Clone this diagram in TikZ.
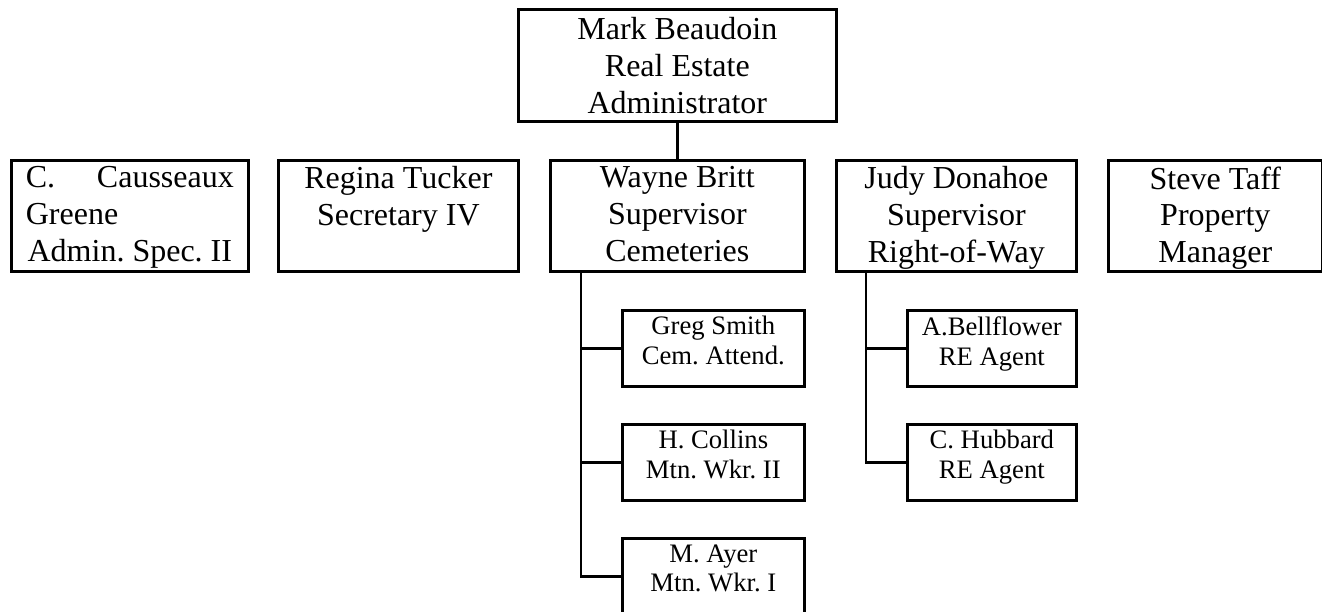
\documentclass[tikz,border=0pt]{standalone}
\usepackage{fontspec}
\setmainfont{Liberation Serif}
\frenchspacing

\begin{document}
\begin{tikzpicture}[x=0.375pt,y=-0.375pt,
    box/.style 2 args={draw,line width=1pt,inner sep=0pt,anchor=north west,
        minimum width=#1*0.375pt,minimum height=#2*0.375pt},
    big/.style={anchor=north,align=center,inner sep=0pt,font=\fontsize{12}{13.8}\selectfont},
    small/.style={anchor=north,align=center,inner sep=0pt,font=\fontsize{10}{11.2}\selectfont},
    link/.style={line width=1pt}]
    \useasboundingbox (0,0) rectangle (1322,611);
    % head
    \node[box={318}{112}] (mark) at (517,8) {};
    \node[big] (mark-t) at ([yshift=-3.4pt]mark.north) {Mark Beaudoin\\Real Estate\\Administrator};
    % second row
    \node[box={237}{111}] (causs) at (10,159) {};
    \node[big] (causs-t) at ([yshift=-2.6pt]causs.north)
        {\makebox[78pt][s]{C.\hfill Causseaux}\\\makebox[78pt][l]{Greene}\\\makebox[78pt]{Admin. Spec. II}};
    \node[box={240}{111}] (tucker) at (277,159) {};
    \node[big] (tucker-t) at ([yshift=-2.6pt]tucker.north) {Regina Tucker\\Secretary IV};
    \node[box={254}{111}] (britt) at (549,159) {};
    \node[big] (britt-t) at ([yshift=-2.6pt]britt.north) {Wayne Britt\\Supervisor\\Cemeteries};
    \node[box={240}{111}] (donahoe) at (835,159) {};
    \node[big] (donahoe-t) at ([yshift=-2.6pt]donahoe.north) {Judy Donahoe\\Supervisor\\Right-of-Way};
    \node[box={214}{111}] (taff) at (1107,159) {};
    \node[big] (taff-t) at ([yshift=-2.6pt]taff.north) {Steve Taff\\Property\\Manager};
    % cemeteries staff
    \node[box={182}{76}] (smith) at (621,309) {};
    \node[small] (smith-t) at ([yshift=-2.6pt]smith.north) {Greg Smith\\Cem. Attend.};
    \node[box={182}{76}] (collins) at (621,423) {};
    \node[small] (collins-t) at ([yshift=-2.6pt]collins.north) {H. Collins\\Mtn. Wkr. II};
    \node[box={182}{76}] (ayer) at (621,537) {};
    \node[small] (ayer-t) at ([yshift=-2.6pt]ayer.north) {M. Ayer\\Mtn. Wkr. I};
    % right-of-way staff
    \node[box={169}{76}] (bellfl) at (906,309) {};
    \node[small] (bellfl-t) at ([yshift=-2.6pt]bellfl.north) {A.Bellflower\\RE Agent};
    \node[box={169}{76}] (hubbard) at (906,423) {};
    \node[small] (hubbard-t) at ([yshift=-2.6pt]hubbard.north) {C. Hubbard\\RE Agent};
    % lines
    \draw[link] (mark.south) -- (britt.north);
    \coordinate (bt) at ([xshift=32*0.375pt]britt.south west);
    \draw[link] (bt) |- (ayer.west);
    \draw[link] (bt |- smith.west) -- (smith.west);
    \draw[link] (bt |- collins.west) -- (collins.west);
    \coordinate (dt) at ([xshift=31*0.375pt]donahoe.south west);
    \draw[link] (dt) |- (hubbard.west);
    \draw[link] (dt |- bellfl.west) -- (bellfl.west);
\end{tikzpicture}
\end{document}
